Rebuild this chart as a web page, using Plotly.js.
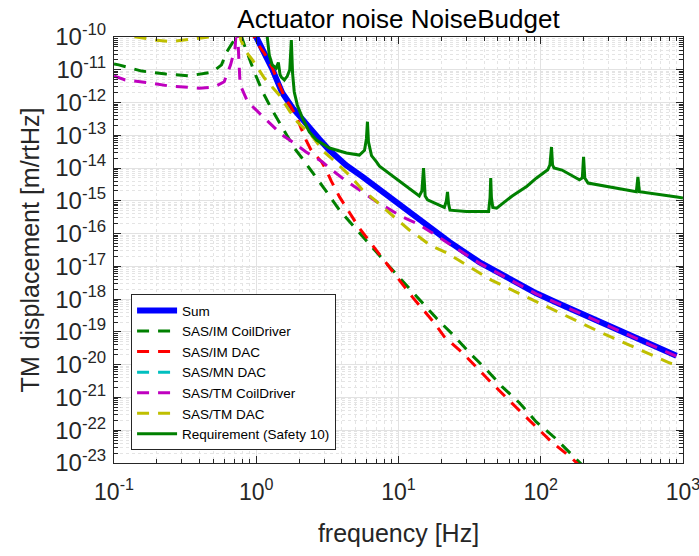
<!DOCTYPE html>
<html>
<head>
<meta charset="utf-8">
<script src="https://cdn.plot.ly/plotly-3.0.1.min.js"></script>
<style>html,body{margin:0;padding:0;background:#fff;}#chart{width:699px;height:556px;}</style>
</head>
<body>
<div id="chart"></div>
<script>
// ---- Data (frequency in Hz, displacement in m/rtHz) ----
const seriesNames = ['Sum', 'SAS/IM CoilDriver', 'SAS/IM DAC', 'SAS/MN DAC', 'SAS/TM CoilDriver', 'SAS/TM DAC', 'Requirement (Safety 10)'];

const freqSum = [0.9, 1.0, 1.15, 1.29, 1.52, 1.8, 2.07, 2.36, 2.78, 3.27, 4.28, 5.6, 8.64, 10.0, 15.0, 22.9, 37, 93, 136, 232, 403, 809, 900];
const valSum  = [2.5e-10, 1.0e-10, 3.5e-11, 1.1e-11, 2.0e-12, 6.8e-13, 3.4e-13, 1.66e-13, 7.6e-14, 3.5e-14, 1.23e-14, 5.4e-15, 1.32e-15, 7.4e-16, 2.1e-16, 5.5e-17, 1.35e-17, 1.51e-18, 7.1e-19, 2.5e-19, 8.5e-20, 2.3e-20, 1.86e-20];

const freqIMCoil = [0.1, 0.108, 0.157, 0.232, 0.337, 0.49, 0.57, 0.62, 0.70, 0.74, 0.79, 0.84, 0.97, 1.11, 1.27, 1.45, 1.63, 1.85, 2.1, 2.43, 3.0, 3.85, 4.9, 6.4, 8.2, 18.5, 24.2, 31.6, 41.8, 53.7, 71, 93, 126, 165, 200];
const valIMCoil  = [1.51e-11, 1.41e-11, 9.1e-12, 7.4e-12, 6.5e-12, 8.5e-12, 1.41e-11, 3.5e-11, 8.1e-11, 2.5e-10, 1.0e-10, 4.5e-11, 8.5e-12, 2.1e-12, 6.8e-13, 2.6e-13, 1.02e-13, 4.1e-14, 2.0e-14, 8.7e-15, 2.4e-15, 5.2e-16, 1.6e-16, 4.5e-17, 1.26e-17, 2.6e-19, 8.1e-20, 2.3e-20, 6.9e-21, 2.1e-21, 6.8e-22, 1.8e-22, 5.8e-23, 1.8e-23, 7.9e-24];

const freqIMDAC = [0.9, 1.01, 1.14, 1.29, 1.59, 1.76, 1.94, 2.07, 2.24, 2.43, 2.87, 3.1, 3.37, 3.85, 4.5, 5.3, 6.4, 7.6, 12.5, 17.9, 21, 28.2, 45.2, 73.5, 119, 165, 200];
const valIMDAC  = [2.0e-10, 6.6e-11, 3.2e-11, 1.2e-11, 1.38e-12, 7.2e-13, 3.2e-13, 1.58e-13, 7.1e-14, 3.5e-14, 1.58e-14, 8.9e-15, 4.0e-15, 1.32e-15, 4.6e-16, 1.48e-16, 5.1e-17, 1.95e-17, 1.17e-18, 1.86e-19, 7.1e-20, 2.3e-20, 2.75e-21, 3.4e-22, 4.4e-23, 1.41e-23, 6.3e-24];

// SAS/MN DAC is not visible anywhere inside the plotted range (legend entry only)
const freqMNDAC = [0.1, 1000];
const valMNDAC  = [null, null];

const freqTMCoil = [0.1, 0.12, 0.176, 0.244, 0.397, 0.505, 0.595, 0.66, 0.71, 0.725, 0.74, 0.755, 0.77, 0.87, 1.17, 1.52, 1.8, 2.24, 2.92, 3.27, 4.17, 5.6, 7.1, 10.7, 13.3, 17.3, 22.3, 37, 93, 136, 232, 403, 809, 900];
const valTMCoil  = [6.5e-12, 4.9e-12, 4.0e-12, 3.2e-12, 2.75e-12, 2.95e-12, 4.3e-12, 1.41e-11, 4.6e-11, 2.0e-10, 1.26e-10, 1.26e-11, 3.5e-12, 1.05e-12, 2.95e-13, 1.02e-13, 6.3e-14, 3.1e-14, 1.55e-14, 1.0e-14, 4.4e-15, 1.86e-15, 9.1e-16, 3.2e-16, 2.1e-16, 1.05e-16, 5.1e-17, 1.26e-17, 1.45e-18, 6.9e-19, 2.4e-19, 8.3e-20, 2.2e-20, 1.8e-20];

const freqTMDAC = [0.1, 0.13, 0.16, 0.2, 0.25, 0.3, 0.38, 0.45, 0.52, 0.6, 0.7, 0.75, 0.78, 0.85, 0.94, 1.14, 1.45, 1.70, 1.94, 2.43, 3.0, 3.66, 4.72, 5.6, 6.8, 8.2, 9.8, 11.9, 14.0, 16.6, 21.8, 28, 45, 74, 124, 260, 809, 900];
const valTMDAC  = [1.41e-10, 1.07e-10, 9.3e-11, 7.9e-11, 7.2e-11, 7.9e-11, 9.1e-11, 9.5e-11, 1.07e-10, 1.6e-10, 4.0e-10, 2.0e-10, 8.1e-11, 3.5e-11, 2.0e-11, 5.6e-12, 1.7e-12, 5.9e-13, 2.6e-13, 1.02e-13, 3.1e-14, 1.45e-14, 5.0e-15, 2.1e-15, 1.07e-15, 5.2e-16, 2.6e-16, 1.29e-16, 7.9e-17, 4.5e-17, 2.6e-17, 1.35e-17, 3.8e-18, 1.35e-18, 4.7e-19, 1.0e-19, 1.12e-20, 1.0e-20];

const freqReq = [1.1, 1.195, 1.235, 1.296, 1.38, 1.43, 1.47, 1.50, 1.575, 1.65, 1.72, 1.765, 1.80, 1.85, 1.945, 2.11, 2.36, 2.65, 3.27, 4.3, 5.31, 5.77, 5.95, 6.05, 6.15, 6.46, 7.0, 7.35, 14.0, 14.6, 15.0, 15.4, 16.0, 21.0, 21.7, 22.1, 22.5, 23.0, 30, 43, 44.0, 44.5, 45, 46, 49, 63, 80, 93, 112, 116, 119, 121, 124, 141, 187, 196, 200, 204, 215, 320, 470, 482, 494, 906, 1000];
const valReq  = [4.0e-10, 1.0e-10, 2.8e-11, 1.41e-11, 1.12e-11, 1.66e-11, 7.1e-12, 6.0e-12, 4.9e-12, 6.3e-12, 1.0e-11, 8.1e-11, 7.9e-12, 2.1e-12, 8.3e-13, 3.4e-13, 1.26e-13, 7.2e-14, 4.1e-14, 2.9e-14, 2.5e-14, 3.5e-14, 7.9e-14, 2.6e-13, 6.3e-14, 2.4e-14, 1.55e-14, 1.15e-14, 1.41e-15, 2.0e-15, 1.0e-14, 1.41e-15, 1.07e-15, 6.3e-16, 1.0e-15, 1.86e-15, 7.9e-16, 5.2e-16, 4.7e-16, 4.7e-16, 1.26e-15, 5.0e-15, 1.26e-15, 6.3e-16, 6.0e-16, 1.41e-15, 2.8e-15, 4.9e-15, 8.9e-15, 1.26e-14, 4.4e-14, 1.26e-14, 1.0e-14, 8.7e-15, 4.4e-15, 5.0e-15, 2.2e-14, 5.0e-15, 3.5e-15, 2.5e-15, 1.9e-15, 5.4e-15, 1.9e-15, 1.32e-15, 1.23e-15];

// ---- Tick labels ----
const xTickVals = [0.1, 1, 10, 100, 1000];
const xTickText = ['10<sup>-1</sup>', '10<sup>0</sup>', '10<sup>1</sup>', '10<sup>2</sup>', '10<sup>3</sup>'];
const yTickVals = [1e-23, 1e-22, 1e-21, 1e-20, 1e-19, 1e-18, 1e-17, 1e-16, 1e-15, 1e-14, 1e-13, 1e-12, 1e-11, 1e-10];
const yTickText = ['10<sup>-23</sup>', '10<sup>-22</sup>', '10<sup>-21</sup>', '10<sup>-20</sup>', '10<sup>-19</sup>', '10<sup>-18</sup>', '10<sup>-17</sup>', '10<sup>-16</sup>', '10<sup>-15</sup>', '10<sup>-14</sup>', '10<sup>-13</sup>', '10<sup>-12</sup>', '10<sup>-11</sup>', '10<sup>-10</sup>'];

// ---- Styles ----
const DASH = '12px,9px';
const traces = [
  {x: freqSum,    y: valSum,    name: seriesNames[0], line: {color: '#0000ff', width: 6}},
  {x: freqIMCoil, y: valIMCoil, name: seriesNames[1], line: {color: '#008000', width: 3, dash: DASH}},
  {x: freqIMDAC,  y: valIMDAC,  name: seriesNames[2], line: {color: '#ff0000', width: 3, dash: DASH}},
  {x: freqMNDAC,  y: valMNDAC,  name: seriesNames[3], line: {color: '#00bfbf', width: 3, dash: DASH}},
  {x: freqTMCoil, y: valTMCoil, name: seriesNames[4], line: {color: '#bf00bf', width: 3, dash: DASH}},
  {x: freqTMDAC,  y: valTMDAC,  name: seriesNames[5], line: {color: '#bfbf00', width: 3, dash: DASH}},
  {x: freqReq,    y: valReq,    name: seriesNames[6], line: {color: '#008000', width: 3}}
].map(t => Object.assign({type: 'scatter', mode: 'lines'}, t));

const axisCommon = {
  type: 'log', ticks: 'inside', ticklen: 7, tickcolor: '#262626', tickwidth: 1,
  linecolor: '#262626', linewidth: 1, mirror: 'ticks', showgrid: true, gridcolor: '#e2e2e2', gridwidth: 1,
  zeroline: false, tickmode: 'array', automargin: false, ticklabeloverflow: 'allow',
  tickfont: {size: 24, color: '#262626', family: 'Liberation Sans, Arial, sans-serif'},
  minor: {tickmode: 'linear', dtick: 'D1', ticks: 'inside', ticklen: 4, tickcolor: '#262626',
          showgrid: true, gridcolor: '#e4e4e4', griddash: 'dot', gridwidth: 1}
};

const layout = {
  width: 699, height: 556,
  margin: {l: 114, r: 16, t: 37, b: 93, pad: 0},
  paper_bgcolor: '#ffffff', plot_bgcolor: '#ffffff',
  font: {family: 'Liberation Sans, Arial, sans-serif', color: '#262626'},
  title: {text: 'Actuator noise NoiseBudget', font: {size: 26, color: '#000000'},
          x: 0.5, xref: 'paper', xanchor: 'center', y: 1 - 19 / 556, yref: 'container', yanchor: 'middle'},
  xaxis: Object.assign({}, axisCommon, {range: [-1, 3], tickvals: xTickVals, ticktext: xTickText,
          ticklabelstandoff: 8,
          tickfont: {size: 23, color: '#262626', family: 'Liberation Sans, Arial, sans-serif'},
          title: {text: 'frequency [Hz]', font: {size: 25, color: '#262626'}, standoff: 20}}),
  yaxis: Object.assign({}, axisCommon, {range: [-23, -10], tickvals: yTickVals, ticktext: yTickText,
          ticklabelstandoff: 2,
          title: {text: 'TM displacement [m/rtHz]', font: {size: 25, color: '#262626'}, standoff: 8}}),
  showlegend: true,
  legend: {x: 0.03, y: 0.03, xanchor: 'left', yanchor: 'bottom', bgcolor: '#ffffff',
           bordercolor: '#262626', borderwidth: 1, font: {size: 13.5, color: '#000000'},
           tracegroupgap: 0, itemwidth: 40}
};

Plotly.newPlot('chart', traces, layout, {displayModeBar: false, staticPlot: true});
</script>
</body>
</html>
